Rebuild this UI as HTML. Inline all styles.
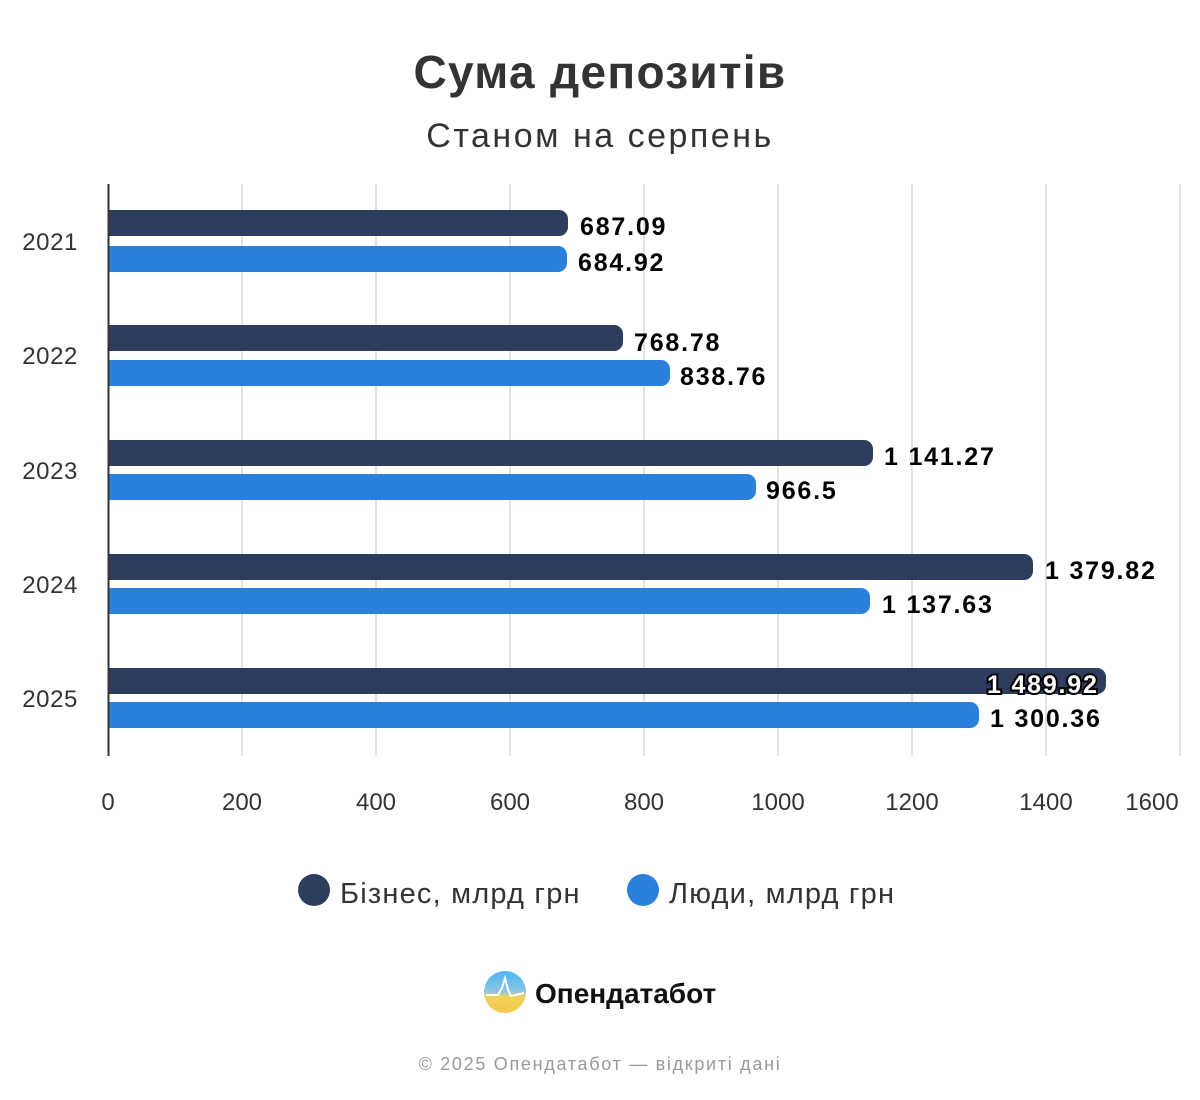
<!DOCTYPE html>
<html><head><meta charset="utf-8"><style>body{margin:0;background:#fff}svg{display:block}text{font-family:"Liberation Sans",sans-serif}</style></head><body>
<svg width="1200" height="1100" viewBox="0 0 1200 1100" xmlns="http://www.w3.org/2000/svg">
<defs><clipPath id="c"><rect x="108" y="0" width="1100" height="1100"/></clipPath>
<linearGradient id="g" x1="0" y1="0" x2="0" y2="1"><stop offset="0" stop-color="#4ab4f5"/><stop offset="0.5" stop-color="#8fc8e0"/><stop offset="0.6" stop-color="#f2d35a"/><stop offset="1" stop-color="#f4c74a"/></linearGradient></defs>
<text x="600" y="88" text-anchor="middle" font-size="46" font-weight="bold" fill="#333" letter-spacing="1.3">Сума депозитів</text>
<text x="600" y="147" text-anchor="middle" font-size="34" fill="#333" letter-spacing="2.5">Станом на серпень</text>
<g stroke="#e3e3e3" stroke-width="2">
<line x1="242" y1="184" x2="242" y2="756"/><line x1="376" y1="184" x2="376" y2="756"/><line x1="510" y1="184" x2="510" y2="756"/><line x1="644" y1="184" x2="644" y2="756"/><line x1="778" y1="184" x2="778" y2="756"/><line x1="912" y1="184" x2="912" y2="756"/><line x1="1046" y1="184" x2="1046" y2="756"/><line x1="1180" y1="184" x2="1180" y2="756"/>
</g>
<g font-size="24" fill="#333" text-anchor="middle">
<text x="108" y="810">0</text><text x="242" y="810">200</text><text x="376" y="810">400</text><text x="510" y="810">600</text><text x="644" y="810">800</text><text x="778" y="810">1000</text><text x="912" y="810">1200</text><text x="1046" y="810">1400</text><text x="1152" y="810">1600</text>
</g>
<g font-size="24" fill="#333" text-anchor="end" letter-spacing="0.6">
<text x="78" y="250">2021</text><text x="78" y="364">2022</text><text x="78" y="479">2023</text><text x="78" y="593">2024</text><text x="78" y="707">2025</text>
</g>
<g clip-path="url(#c)">
<rect x="100" y="210" width="468" height="26" rx="9" fill="#2e3d5e"/>
<rect x="100" y="246" width="467" height="26" rx="9" fill="#2b80dc"/>
<rect x="100" y="325" width="523" height="26" rx="9" fill="#2e3d5e"/>
<rect x="100" y="360" width="570" height="26" rx="9" fill="#2b80dc"/>
<rect x="100" y="440" width="773" height="26" rx="9" fill="#2e3d5e"/>
<rect x="100" y="474" width="656" height="26" rx="9" fill="#2b80dc"/>
<rect x="100" y="554" width="933" height="26" rx="9" fill="#2e3d5e"/>
<rect x="100" y="588" width="770" height="26" rx="9" fill="#2b80dc"/>
<rect x="100" y="668" width="1006" height="26" rx="9" fill="#2e3d5e"/>
<rect x="100" y="702" width="879" height="26" rx="9" fill="#2b80dc"/>
</g>
<line x1="108.5" y1="184" x2="108.5" y2="756" stroke="#333" stroke-width="2"/>
<g font-size="25" font-weight="bold" fill="#000" letter-spacing="1.8">
<text x="580" y="235">687.09</text><text x="578" y="271">684.92</text>
<text x="634" y="351">768.78</text><text x="680" y="385">838.76</text>
<text x="884" y="465">1 141.27</text><text x="766" y="499">966.5</text>
<text x="1045" y="579">1 379.82</text><text x="882" y="613">1 137.63</text>
<text x="990" y="727">1 300.36</text>
<text x="987" y="693" fill="#fff" stroke="#000" stroke-width="4" paint-order="stroke">1 489.92</text>
</g>
<circle cx="314" cy="890" r="16" fill="#2e3d5e"/>
<text x="340" y="903" font-size="29" fill="#333" letter-spacing="1.2">Бізнес, млрд грн</text>
<circle cx="643" cy="890" r="16" fill="#2b80dc"/>
<text x="669" y="903" font-size="29" fill="#333" letter-spacing="1.2">Люди, млрд грн</text>
<circle cx="505" cy="992" r="21" fill="url(#g)"/>
<polyline points="486,995 498,995 502,988 505,978 508,990 511,996 524,993" fill="none" stroke="#fff" stroke-width="2"/>
<text x="535" y="1003" font-size="28" font-weight="bold" fill="#111">Опендатабот</text>
<text x="600" y="1070" text-anchor="middle" font-size="18" fill="#999" letter-spacing="1.7">© 2025 Опендатабот — відкриті дані</text>
</svg>
</body></html>
